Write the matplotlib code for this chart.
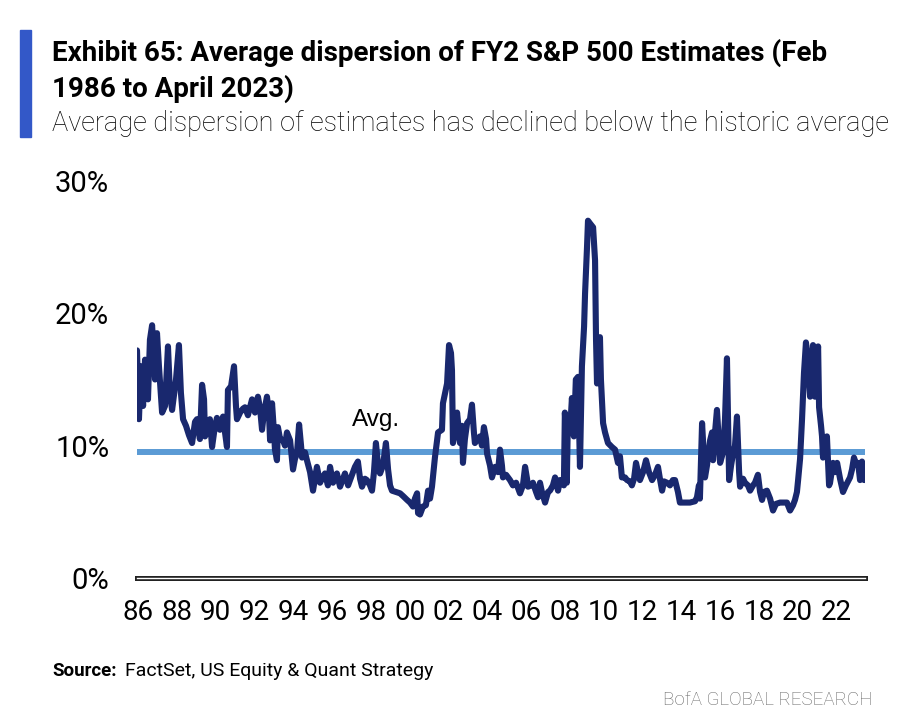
import matplotlib
matplotlib.use('Agg')
import matplotlib.pyplot as plt
from matplotlib.patches import Rectangle

# дані з графіка: рік (десятковий) і середня дисперсія оцінок, %
years = [
    1986.10, 1986.20, 1986.30, 1986.41, 1986.51, 1986.66, 1986.76, 1986.87, 1987.02, 1987.12,
    1987.22, 1987.38, 1987.53, 1987.68, 1987.78, 1987.89, 1988.09, 1988.24, 1988.34, 1988.45,
    1988.60, 1988.75, 1988.91, 1989.06, 1989.16, 1989.31, 1989.42, 1989.52, 1989.57, 1989.72,
    1989.82, 1989.93, 1990.08, 1990.18, 1990.33, 1990.49, 1990.59, 1990.69, 1990.74, 1990.90,
    1991.05, 1991.15, 1991.20, 1991.36, 1991.51, 1991.61, 1991.76, 1991.97, 1992.12, 1992.27,
    1992.38, 1992.48, 1992.58, 1992.73, 1992.83, 1992.89, 1992.99, 1993.09, 1993.14, 1993.24,
    1993.29, 1993.40, 1993.55, 1993.65, 1993.75, 1993.91, 1994.06, 1994.16, 1994.26, 1994.37,
    1994.47, 1994.52, 1994.67, 1994.77, 1994.93, 1995.08, 1995.18, 1995.28, 1995.44, 1995.54,
    1995.69, 1995.84, 1995.95, 1996.10, 1996.20, 1996.30, 1996.46, 1996.61, 1996.71, 1996.87,
    1996.97, 1997.12, 1997.22, 1997.37, 1997.48, 1997.58, 1997.73, 1997.83, 1997.99, 1998.09,
    1998.19, 1998.29, 1998.40, 1998.50, 1998.65, 1998.80, 1998.91, 1999.01, 1999.11, 1999.31,
    1999.52, 1999.67, 1999.88, 2000.03, 2000.18, 2000.28, 2000.39, 2000.44, 2000.54, 2000.69,
    2000.84, 2000.95, 2001.05, 2001.15, 2001.30, 2001.46, 2001.66, 2001.71, 2001.92, 2002.02,
    2002.12, 2002.17, 2002.22, 2002.32, 2002.43, 2002.53, 2002.58, 2002.68, 2002.73, 2002.83,
    2002.94, 2003.09, 2003.19, 2003.29, 2003.34, 2003.50, 2003.60, 2003.70, 2003.80, 2003.91,
    2003.96, 2004.11, 2004.21, 2004.37, 2004.52, 2004.62, 2004.72, 2004.77, 2004.93, 2005.13,
    2005.28, 2005.44, 2005.54, 2005.64, 2005.79, 2005.90, 2006.00, 2006.05, 2006.20, 2006.30,
    2006.46, 2006.56, 2006.66, 2006.76, 2006.92, 2007.07, 2007.17, 2007.32, 2007.43, 2007.53,
    2007.58, 2007.68, 2007.78, 2007.88, 2007.93, 2007.98, 2008.03, 2008.08, 2008.19, 2008.29,
    2008.34, 2008.39, 2008.49, 2008.60, 2008.70, 2008.80, 2008.91, 2008.96, 2009.06, 2009.11,
    2009.21, 2009.37, 2009.47, 2009.52, 2009.57, 2009.67, 2009.72, 2009.77, 2009.88, 2009.98,
    2010.13, 2010.33, 2010.49, 2010.64, 2010.74, 2010.84, 2011.00, 2011.10, 2011.25, 2011.35,
    2011.46, 2011.56, 2011.66, 2011.76, 2011.92, 2012.07, 2012.22, 2012.38, 2012.53, 2012.68,
    2012.78, 2012.89, 2012.99, 2013.14, 2013.29, 2013.44, 2013.55, 2013.70, 2013.80, 2014.06,
    2014.31, 2014.57, 2014.67, 2014.77, 2014.82, 2014.93, 2015.03, 2015.08, 2015.18, 2015.34,
    2015.44, 2015.49, 2015.59, 2015.69, 2015.80, 2015.85, 2016.00, 2016.10, 2016.20, 2016.31,
    2016.41, 2016.51, 2016.61, 2016.71, 2016.82, 2016.87, 2017.02, 2017.12, 2017.27, 2017.38,
    2017.53, 2017.63, 2017.78, 2017.89, 2017.99, 2018.09, 2018.24, 2018.40, 2018.55, 2018.70,
    2018.91, 2019.11, 2019.26, 2019.42, 2019.57, 2019.67, 2019.77, 2019.83, 2019.93, 2020.03,
    2020.13, 2020.23, 2020.33, 2020.44, 2020.49, 2020.59, 2020.69, 2020.74, 2020.85, 2020.90,
    2021.00, 2021.05, 2021.10, 2021.20, 2021.30, 2021.41, 2021.46, 2021.61, 2021.71, 2021.82,
    2021.97, 2022.12, 2022.27, 2022.48, 2022.58, 2022.68, 2022.79, 2022.89, 2022.99, 2023.09,
    2023.20,
]
dispersion = [
    17.2, 12.0, 16.0, 13.0, 16.5, 13.5, 18.0, 19.1, 15.0, 18.5,
    16.0, 12.5, 13.0, 17.5, 14.0, 12.7, 15.0, 17.6, 14.0, 12.0,
    11.5, 10.8, 10.2, 11.8, 12.0, 10.5, 14.6, 13.5, 10.7, 11.5,
    12.0, 9.9, 11.5, 12.1, 11.2, 12.2, 11.0, 9.9, 14.2, 14.5,
    16.0, 13.0, 12.0, 12.5, 12.8, 12.9, 12.3, 13.5, 12.5, 13.7,
    12.8, 11.2, 12.5, 13.7, 12.5, 10.4, 13.2, 11.0, 9.7, 8.9,
    11.4, 10.5, 10.4, 10.0, 11.0, 10.4, 8.2, 9.0, 9.4, 11.6,
    10.0, 9.1, 9.5, 8.9, 8.0, 6.6, 7.5, 8.4, 7.2, 7.5,
    7.9, 7.0, 8.4, 7.2, 7.5, 7.9, 6.9, 7.5, 7.9, 7.0,
    7.4, 8.0, 8.4, 8.8, 7.5, 6.9, 7.5, 7.4, 7.0, 6.6,
    8.0, 10.2, 8.5, 7.9, 8.5, 10.2, 8.2, 7.0, 6.6, 6.5,
    6.4, 6.2, 5.9, 5.7, 5.4, 6.0, 6.4, 4.9, 4.8, 5.4,
    5.5, 6.6, 6.0, 6.9, 9.1, 11.0, 11.2, 13.2, 14.7, 17.6,
    17.0, 15.7, 10.2, 11.0, 12.5, 11.0, 10.2, 11.5, 8.7, 10.5,
    11.7, 12.0, 13.1, 11.0, 10.2, 10.5, 10.7, 10.0, 11.4, 10.5,
    9.4, 8.5, 7.6, 8.4, 8.0, 9.7, 8.5, 7.6, 7.8, 7.4,
    7.0, 7.2, 6.8, 6.4, 7.0, 8.4, 7.5, 6.9, 7.0, 7.2,
    6.5, 6.1, 7.2, 6.5, 5.7, 6.5, 6.6, 7.0, 7.6, 7.0,
    6.6, 7.4, 7.4, 7.0, 12.5, 11.0, 7.2, 11.7, 11.0, 13.6,
    12.0, 10.7, 15.0, 15.2, 8.4, 16.0, 19.0, 21.5, 25.0, 27.0,
    26.8, 26.5, 24.0, 18.0, 14.7, 16.0, 18.2, 15.0, 11.7, 11.0,
    10.2, 9.9, 9.7, 8.7, 9.2, 7.6, 7.6, 7.4, 7.3, 7.0,
    7.5, 8.7, 8.0, 7.4, 8.0, 8.9, 8.0, 7.4, 7.8, 8.4,
    7.5, 6.6, 7.3, 7.2, 7.0, 7.4, 7.4, 6.5, 5.7, 5.7,
    5.7, 5.8, 6.1, 7.0, 6.0, 11.7, 9.0, 7.6, 8.5, 10.4,
    11.0, 8.9, 11.0, 12.7, 10.0, 8.7, 9.5, 12.0, 16.6, 7.4,
    8.5, 9.4, 10.0, 12.2, 8.0, 6.9, 7.5, 7.2, 7.0, 6.6,
    7.0, 7.2, 7.8, 6.5, 5.9, 6.5, 6.6, 6.0, 5.1, 5.6,
    5.7, 5.7, 5.7, 5.1, 5.5, 5.9, 6.5, 7.4, 9.0, 12.0,
    15.5, 17.8, 16.5, 13.7, 15.0, 17.6, 13.7, 15.0, 17.5, 12.9,
    11.5, 10.7, 9.1, 10.0, 10.7, 7.0, 7.2, 8.7, 8.0, 8.7,
    7.5, 6.5, 7.0, 7.6, 8.2, 9.1, 8.6, 8.7, 7.4, 8.8,
    7.4,
]
avg_level = 9.5  # історичне середнє
y_ticks = [0, 10, 20, 30]
x_tick_labels = ['86', '88', '90', '92', '94', '96', '98', '00', '02', '04',
                 '06', '08', '10', '12', '14', '16', '18', '20', '22']

narrow = ['Roboto', 'DejaVu Sans']
W, H = 912, 725


def fx(px):
    return px / W


def fy(py):
    return 1 - py / H


def main():
    fig = plt.figure(figsize=(W / 100, H / 100), dpi=100)
    ax = fig.add_axes([fx(137), fy(578), (865 - 137) / W, (578 - 181) / H])

    # середня лінія і сама серія
    ax.axhline(avg_level, color='#5b9bd5', lw=4.3, zorder=2)
    ax.plot(years, dispersion, color='#19286e', lw=4.4, solid_joinstyle='round',
            solid_capstyle='round', zorder=3)
    ax.text(1997.07, 11.5, 'Avg.', fontsize=17.5, family='Liberation Sans', color='black')

    # подвійна лінія осі X
    ax.axhline(0, color='#222222', lw=3.6, clip_on=False, zorder=4)
    ax.axhline(0, color='white', lw=1.0, clip_on=False, zorder=5)

    ax.set_xlim(1986.1, 1986.1 + 728 / 19.6)
    ax.set_ylim(0, 30)
    ax.set_yticks(y_ticks)
    ax.set_yticklabels([f'{v}%' for v in y_ticks], family=narrow, fontsize=21)
    xt = [1986.15 + 1.98 * i for i in range(len(x_tick_labels))]
    ax.set_xticks(xt)
    ax.set_xticklabels(x_tick_labels, family=narrow, fontsize=20)
    ax.tick_params(axis='y', length=0, pad=20)
    ax.tick_params(axis='x', length=0, pad=15)
    for s in ax.spines.values():
        s.set_visible(False)

    # заголовок, підзаголовок, синя смуга
    fig.patches.append(Rectangle((fx(20), fy(137)), 11 / W, 107 / H,
                                 transform=fig.transFigure, color='#3358c8'))
    fig.text(fx(52), fy(61), 'Exhibit 65: Average dispersion of FY2 S&P 500 Estimates (Feb',
             family=narrow, fontsize=20, weight='bold', va='baseline')
    fig.text(fx(52), fy(97), '1986 to April 2023)',
             family=narrow, fontsize=20, weight='bold', va='baseline')
    fig.text(fx(52), fy(131), 'Average dispersion of estimates has declined below the historic average',
             family=narrow, fontsize=19.5, weight='light', va='baseline')

    # джерело
    fig.text(fx(52), fy(676), 'Source:', family=narrow, fontsize=13.5, weight='bold', va='baseline')
    fig.text(fx(125), fy(676), 'FactSet, US Equity & Quant Strategy', family=narrow,
             fontsize=14, va='baseline')
    fig.text(fx(872), fy(705), 'BofA GLOBAL RESEARCH', family=narrow, fontsize=13.5,
             color='#666666', ha='right', va='baseline', weight='light')

    fig.savefig('out.png', dpi=100)


if __name__ == "__main__":
    main()
